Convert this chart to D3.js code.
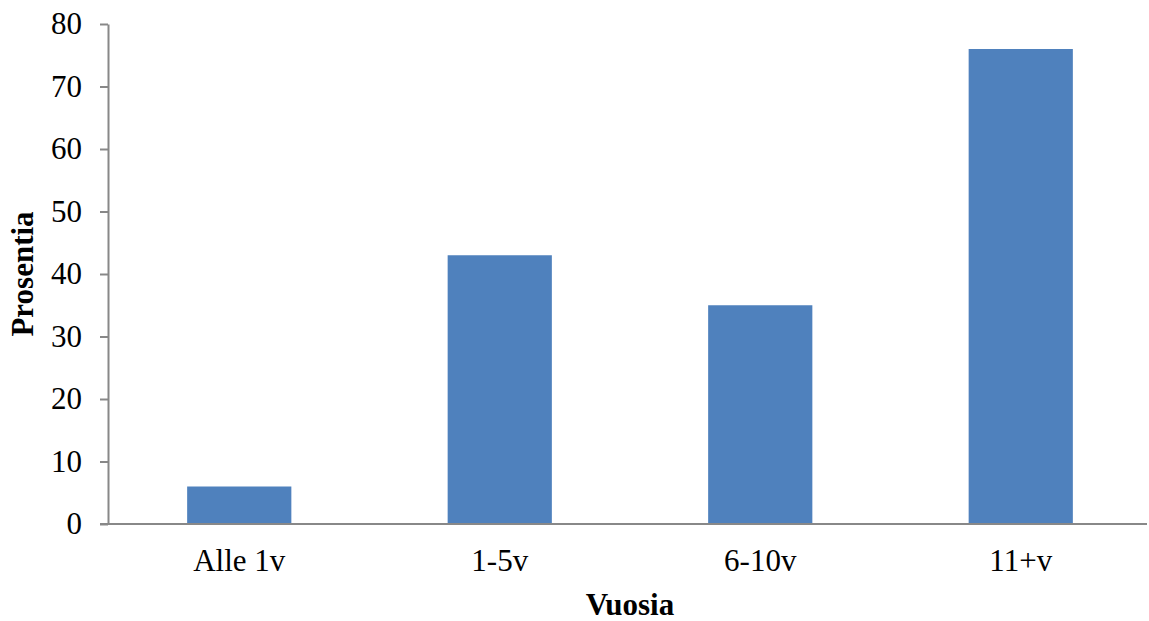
<!DOCTYPE html>
<html><head><meta charset="utf-8">
<script src="https://cdn.jsdelivr.net/npm/d3@7"></script>
<style>body{margin:0;background:#fff}</style>
</head><body>
<svg id="c" width="1149" height="621"></svg>
<script>
const categories = ["Alle 1v", "1-5v", "6-10v", "11+v"];
const values = [6, 43, 35, 76];
const yTicks = [0, 10, 20, 30, 40, 50, 60, 70, 80];

const svg = d3.select("#c");
const m = {left: 108, right: 1147, top: 24, bottom: 524};
const x = d3.scaleBand().domain(categories).range([109, 1151]).paddingInner(0.6).paddingOuter(0.3);
const y = d3.scaleLinear().domain([0, 80]).range([m.bottom, m.top]);
const font = "'Liberation Serif', 'Times New Roman', serif";
const fs = 31;

svg.selectAll("rect.bar").data(values).join("rect")
  .attr("class","bar")
  .attr("x",(d,i)=>x(categories[i]))
  .attr("width",x.bandwidth())
  .attr("y",d=>y(d))
  .attr("height",d=>y(0)-y(d))
  .attr("fill","#4F81BD");

const ya = svg.append("g").attr("transform",`translate(${m.left},0)`)
  .call(d3.axisLeft(y).tickValues(yTicks).tickSize(8).tickSizeOuter(0).tickPadding(18));
ya.select(".domain").attr("stroke","#888").attr("stroke-width",2);
ya.selectAll(".tick line").attr("stroke","#888").attr("stroke-width",2);
ya.selectAll(".tick text").attr("font-family",font).attr("font-size",fs).attr("fill","#000");

const xa = svg.append("g").attr("transform",`translate(0,${m.bottom})`)
  .call(d3.axisBottom(x).tickSize(0).tickSizeOuter(0).tickPadding(25));
xa.select(".domain").attr("stroke","#888").attr("stroke-width",2).attr("d",`M${m.left-8},0H${m.right}`);
xa.selectAll(".tick text").attr("font-family",font).attr("font-size",fs).attr("fill","#000");

svg.append("text").attr("x",630).attr("y",615)
  .attr("text-anchor","middle").attr("font-family",font).attr("font-size",fs).attr("font-weight","bold").text("Vuosia");
svg.append("text").attr("transform",`translate(33,274) rotate(-90)`)
  .attr("text-anchor","middle").attr("font-family",font).attr("font-size",fs).attr("font-weight","bold").text("Prosentia");
</script>
</body></html>
